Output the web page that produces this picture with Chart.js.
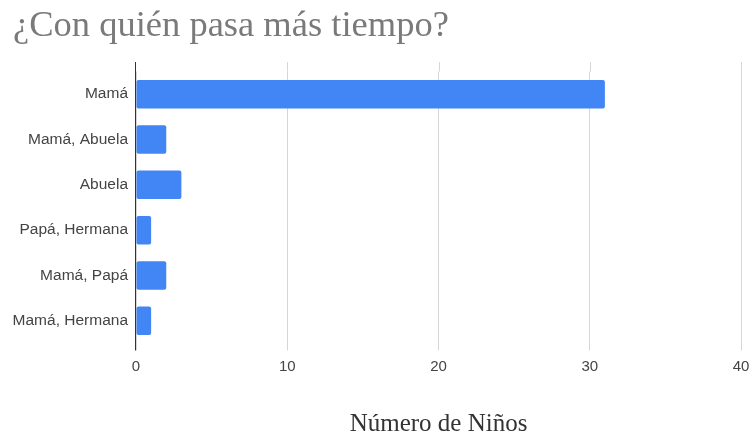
<!DOCTYPE html>
<html lang="es">
<head>
<meta charset="utf-8">
<title>¿Con quién pasa más tiempo?</title>
<script src="https://cdn.jsdelivr.net/npm/chart.js@4/dist/chart.umd.min.js"></script>
<style>
  html, body { margin: 0; padding: 0; background: #ffffff; }
  #wrap { width: 750px; height: 437px; }
</style>
</head>
<body>
<div id="wrap"><canvas id="chart" width="750" height="437"></canvas></div>
<script>
// Respuestas: con quién pasa más tiempo cada niño
const categories = ['Mamá', 'Mamá, Abuela', 'Abuela', 'Papá, Hermana', 'Mamá, Papá', 'Mamá, Hermana'];
const counts = [31, 2, 3, 1, 2, 1];
const xTickValues = [0, 10, 20, 30, 40];

const titleText = '¿Con quién pasa más tiempo?';
const xAxisTitle = 'Número de Niños';

// Extends the vertical gridlines slightly above the plot and draws the left axis line
const axisExtend = {
  id: 'axisExtend',
  beforeDatasetsDraw(chart) {
    const { ctx, chartArea, scales } = chart;
    const xs = scales.x;
    ctx.save();
    ctx.lineWidth = 1;
    ctx.strokeStyle = '#d6d6d6';
    xTickValues.forEach(v => {
      if (v === 0) return;
      const px = Math.round(xs.getPixelForValue(v)) + 0.5;
      ctx.beginPath();
      ctx.moveTo(px, chartArea.top - 9.5);
      ctx.lineTo(px, chartArea.top);
      ctx.stroke();
    });
    ctx.restore();
  },
  afterDatasetsDraw(chart) {
    const { ctx, chartArea, scales } = chart;
    const px = Math.round(scales.x.getPixelForValue(0)) - 0.5;
    ctx.save();
    ctx.lineWidth = 1;
    ctx.strokeStyle = '#333333';
    ctx.beginPath();
    ctx.moveTo(px, chartArea.top - 9.5);
    ctx.lineTo(px, chartArea.bottom + 7);
    ctx.stroke();
    ctx.restore();
  }
};

new Chart(document.getElementById('chart'), {
  type: 'bar',
  data: {
    labels: categories,
    datasets: [{
      data: counts,
      backgroundColor: '#4285F4',
      borderRadius: 2,
      borderSkipped: false,
      categoryPercentage: 1,
      barPercentage: 0.63
    }]
  },
  options: {
    indexAxis: 'y',
    responsive: false,
    animation: false,
    layout: { padding: { left: 13, right: 9, top: 0, bottom: 0 } },
    plugins: {
      legend: { display: false },
      tooltip: { enabled: false },
      title: {
        display: true,
        text: titleText,
        align: 'start',
        color: '#7a7a7a',
        font: { family: '"Liberation Serif", "Times New Roman", serif', size: 36.5, weight: 'normal', lineHeight: 1.2 },
        padding: { top: 5, bottom: 22.7 }
      }
    },
    scales: {
      x: {
        type: 'linear',
        min: 0,
        max: 40,
        afterBuildTicks(scale) { scale.ticks = xTickValues.map(v => ({ value: v })); },
        afterFit(scale) { scale.height = 93.5; scale.paddingLeft = 0; scale.paddingRight = 0; },
        grid: { color: '#d6d6d6', lineWidth: 1, tickLength: 7, tickColor: '#d6d6d6' },
        border: { display: false },
        ticks: {
          color: '#444444',
          padding: 7,
          font: { family: '"Liberation Sans", Arial, sans-serif', size: 15 }
        },
        title: {
          display: true,
          text: xAxisTitle,
          color: '#333333',
          font: { family: '"Liberation Serif", "Times New Roman", serif', size: 25, lineHeight: 1 },
          padding: { top: 0, bottom: 0 }
        }
      },
      y: {
        type: 'category',
        offset: true,
        afterFit(scale) { scale.width = 123; scale.paddingTop = 0; scale.paddingBottom = 0; },
        grid: { display: false, drawTicks: false },
        border: { display: false },
        ticks: {
          color: '#444444',
          padding: 8,
          font: { family: '"Liberation Sans", Arial, sans-serif', size: 15.5 }
        }
      }
    }
  },
  plugins: [axisExtend]
});
</script>
</body>
</html>
